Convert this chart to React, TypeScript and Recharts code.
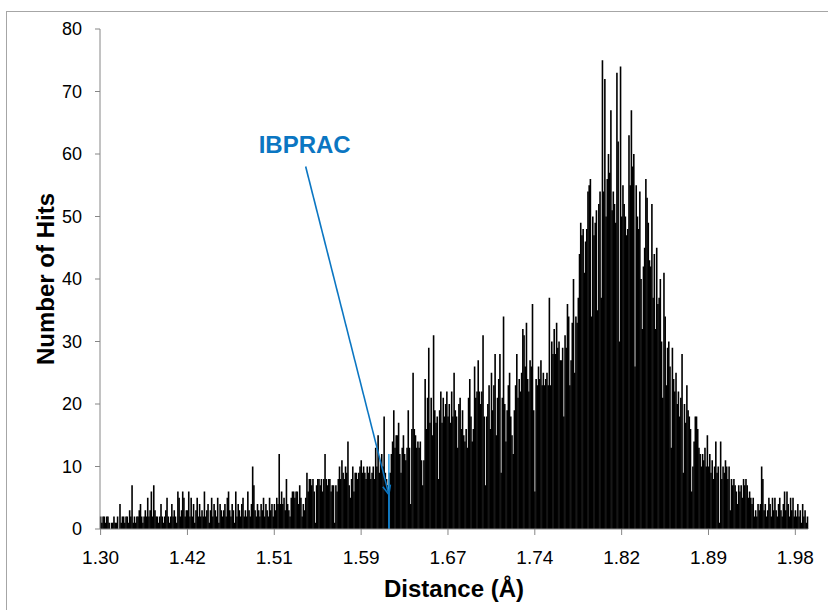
import { BarChart, Bar, XAxis, YAxis, ReferenceLine, Label } from 'recharts';

// hits per distance bin, one array per labelled stretch of the axis (72 bins each)
const hits130 = [
  2, 1, 2, 2, 1, 2, 2, 1, 0, 1, 1, 2, 1, 1, 2, 0, 4, 1, 2, 2, 1, 2, 2, 1, 3, 2, 7, 1, 2, 1,
  2, 2, 3, 4, 2, 1, 2, 3, 2, 5, 2, 3, 6, 2, 7, 3, 2, 2, 1, 2, 4, 2, 1, 2, 3, 5, 2, 1, 2, 4,
  2, 3, 2, 1, 6, 5, 2, 3, 6, 5, 2, 3,
];
const hits142 = [
  3, 6, 2, 5, 2, 4, 1, 3, 5, 2, 4, 2, 3, 2, 6, 2, 3, 4, 1, 3, 5, 2, 4, 3, 2, 5, 1, 4, 3, 2,
  3, 4, 2, 5, 6, 3, 2, 4, 3, 1, 6, 2, 4, 3, 2, 4, 5, 2, 3, 2, 6, 3, 2, 4, 10, 7, 3, 2, 4, 3,
  2, 4, 3, 5, 2, 4, 3, 2, 5, 3, 4, 2,
];
const hits151 = [
  4, 3, 5, 4, 12, 4, 6, 4, 5, 3, 8, 4, 3, 2, 5, 6, 6, 5, 6, 6, 4, 7, 5, 2, 4, 3, 5, 9, 6, 8,
  8, 7, 8, 6, 1, 7, 8, 8, 7, 8, 6, 8, 12, 8, 7, 8, 8, 6, 7, 7, 1, 7, 6, 8, 10, 8, 11, 9, 8, 10,
  9, 14, 7, 5, 8, 10, 6, 9, 9, 8, 9, 10,
];
const hits159 = [
  11, 9, 10, 9, 8, 10, 9, 10, 8, 9, 10, 8, 13, 10, 15, 9, 11, 12, 10, 18, 9, 8, 7, 9, 9, 12, 14, 19, 13, 15,
  15, 17, 12, 9, 13, 15, 12, 11, 13, 19, 13, 4, 16, 25, 16, 15, 13, 14, 13, 14, 11, 7, 11, 24, 16, 21, 29, 17, 21, 15,
  31, 19, 17, 18, 8, 19, 22, 17, 21, 18, 20, 22,
];
const hits167 = [
  18, 20, 17, 22, 18, 25, 19, 18, 13, 20, 21, 16, 19, 15, 14, 16, 13, 21, 24, 18, 14, 16, 26, 21, 22, 27, 22, 20, 22, 31,
  18, 7, 18, 20, 23, 16, 25, 19, 23, 28, 15, 21, 24, 28, 9, 21, 34, 20, 14, 19, 23, 25, 18, 15, 12, 19, 23, 28, 21, 24,
  22, 25, 32, 31, 26, 33, 24, 22, 27, 26, 36, 19,
];
const hits174 = [
  6, 24, 23, 26, 24, 27, 23, 25, 23, 24, 25, 23, 37, 23, 30, 28, 32, 28, 33, 29, 30, 27, 27, 29, 18, 31, 29, 36, 34, 23,
  27, 33, 40, 25, 34, 33, 37, 44, 49, 47, 48, 41, 46, 48, 54, 55, 56, 34, 50, 47, 49, 51, 35, 52, 54, 37, 75, 54, 72, 50,
  56, 60, 57, 67, 51, 54, 52, 49, 73, 62, 30, 74,
];
const hits182 = [
  50, 55, 52, 50, 47, 48, 63, 55, 67, 58, 60, 26, 55, 50, 48, 54, 40, 32, 42, 45, 56, 53, 49, 43, 42, 52, 37, 44, 32, 45,
  36, 37, 40, 30, 21, 41, 34, 23, 29, 30, 26, 13, 29, 24, 22, 25, 20, 22, 18, 21, 28, 9, 20, 17, 23, 19, 18, 16, 6, 10,
  14, 18, 18, 16, 13, 12, 10, 12, 11, 13, 10, 15,
];
const hits189 = [
  10, 12, 9, 11, 8, 10, 14, 9, 10, 1, 14, 8, 10, 9, 11, 10, 8, 10, 3, 8, 7, 8, 7, 6, 4, 7, 6, 7, 5, 8,
  7, 8, 7, 5, 6, 5, 4, 5, 2, 3, 2, 4, 3, 4, 10, 8, 3, 4, 2, 3, 5, 4, 2, 5, 3, 5, 3, 2, 4, 5,
  3, 2, 4, 6, 3, 6, 4, 2, 5, 3, 5, 2,
];
const hits198 = [3, 2, 4, 2, 3, 1, 4, 2, 3, 1, 2];

const hits = [
  ...hits130, ...hits142, ...hits151, ...hits159, ...hits167,
  ...hits174, ...hits182, ...hits189, ...hits198,
];

const tickLabels = ['1.30', '1.42', '1.51', '1.59', '1.67', '1.74', '1.82', '1.89', '1.98'];
const binsPerLabel = 72;
const xTicks = tickLabels.map((_, k) => k * binsPerLabel);
const yTicks = [0, 10, 20, 30, 40, 50, 60, 70, 80];

// IBPRAC: its bin, its bar height, and where the callout arrow starts/ends (data units)
const ibpracBin = 239;
const ibpracHits = 12;
const calloutFrom = { bin: 170, hits: 58 };
const calloutTo = { bin: 239, hits: 5.5 };

const data = hits.map((v, i) => ({ i, v }));

const FONT = '"Liberation Sans", Arial, Helvetica, sans-serif';
const AXIS = '#868686';
const BLUE = '#0b76c2';
const LIGHT_BLUE = '#3aa6e4';

const titleStyle = { fontFamily: FONT, fontSize: 24, fontWeight: 700, fill: '#000' };

function YTitle(p: any) {
  const vb = p.viewBox || { x: 0, y: 29, width: 100, height: 500 };
  const cx = vb.x + 54;
  const cy = vb.y + vb.height / 2;
  return (
    <text x={cx} y={cy} transform={`rotate(-90 ${cx} ${cy})`} textAnchor="middle" style={titleStyle}>
      Number of Hits
    </text>
  );
}

function XTitle(p: any) {
  const vb = p.viewBox || { x: 100, y: 529, width: 708, height: 81 };
  return (
    <text x={vb.x + vb.width / 2} y={vb.y + 68} textAnchor="middle" style={titleStyle}>
      Distance (Å)
    </text>
  );
}

function Callout(p: any) {
  const { x1, y1, x2, y2 } = p;
  const a = Math.atan2(y2 - y1, x2 - x1);
  const len = 10;
  const spread = 0.4;
  const w1 = `${x2 - len * Math.cos(a - spread)},${y2 - len * Math.sin(a - spread)}`;
  const w2 = `${x2 - len * Math.cos(a + spread)},${y2 - len * Math.sin(a + spread)}`;
  return (
    <g>
      <text
        x={x1 - 1}
        y={y1 - 14}
        textAnchor="middle"
        style={{ fontFamily: FONT, fontSize: 24, fontWeight: 700, fill: BLUE }}
      >
        IBPRAC
      </text>
      <line x1={x1} y1={y1} x2={x2} y2={y2} stroke={BLUE} strokeWidth={1.6} />
      <polyline points={`${w1} ${x2},${y2} ${w2}`} fill="none" stroke={BLUE} strokeWidth={1.6} />
    </g>
  );
}

// bars are ~1.2px wide; widen each a touch so neighbours meet without hairline gaps
function Stick(p: any) {
  const w = Math.max(p.width || 0, 1) + 0.6;
  return <rect x={p.x - 0.1} y={p.y} width={w} height={p.height || 0} fill="#000" />;
}

export default function App() {
  return (
    <div style={{ position: 'fixed', left: 0, top: 0, width: 828, height: 610, overflow: 'hidden', background: '#fff' }}>
      <div
        style={{
          position: 'absolute',
          left: 6,
          top: 11,
          width: 900,
          height: 700,
          border: '1px solid #a6a6a6',
        }}
      />
      <div style={{ position: 'absolute', left: 0, top: 0 }}>
        <BarChart
          width={828}
          height={610}
          data={data}
          margin={{ top: 29, right: 20, bottom: 0, left: 0 }}
          barCategoryGap={0}
          barGap={0}
        >
          <XAxis
            dataKey="i"
            type="category"
            ticks={xTicks}
            interval={0}
            tickFormatter={(v: number) => tickLabels[xTicks.indexOf(v)] ?? ''}
            tickSize={6}
            tickMargin={16}
            height={81}
            axisLine={{ stroke: AXIS }}
            tickLine={{ stroke: AXIS }}
            tick={{ fontFamily: FONT, fontSize: 19, fill: '#000' }}
          >
            <Label content={XTitle} />
          </XAxis>
          <YAxis
            domain={[0, 80]}
            ticks={yTicks}
            interval={0}
            width={100}
            tickSize={5}
            tickMargin={13}
            axisLine={{ stroke: AXIS }}
            tickLine={{ stroke: AXIS }}
            tick={{ fontFamily: FONT, fontSize: 18, fill: '#000' }}
          >
            <Label content={YTitle} />
          </YAxis>
          <Bar dataKey="v" fill="#000" shape={Stick} isAnimationActive={false} />
          <ReferenceLine
            segment={[{ x: ibpracBin, y: 0 }, { x: ibpracBin, y: ibpracHits }]}
            stroke={LIGHT_BLUE}
            strokeWidth={1.6}
          />
          <ReferenceLine
            segment={[{ x: ibpracBin, y: 0 }, { x: calloutTo.bin, y: calloutTo.hits }]}
            stroke={BLUE}
            strokeWidth={1.6}
          />
          <ReferenceLine
            segment={[{ x: calloutFrom.bin, y: calloutFrom.hits }, { x: calloutTo.bin, y: calloutTo.hits }]}
            shape={Callout}
          />
        </BarChart>
      </div>
    </div>
  );
}
